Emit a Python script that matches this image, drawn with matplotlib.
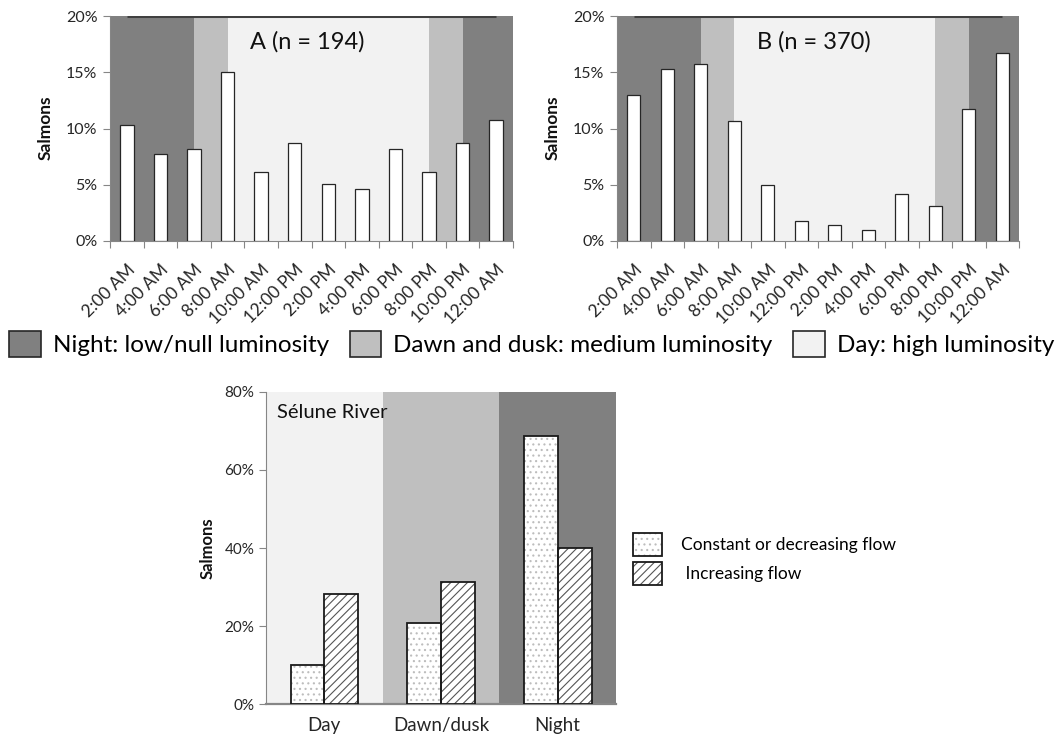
import numpy as np
import matplotlib
matplotlib.use('Agg')
import matplotlib.pyplot as plt
from matplotlib.patches import Patch
from matplotlib.ticker import PercentFormatter

plt.rcParams['font.family'] = ['Lato', 'DejaVu Sans']
plt.rcParams['hatch.linewidth'] = 0.8

hours = ['2:00 AM', '4:00 AM', '6:00 AM', '8:00 AM', '10:00 AM', '12:00 PM',
         '2:00 PM', '4:00 PM', '6:00 PM', '8:00 PM', '10:00 PM', '12:00 AM']
salmon_a = [10.3, 7.7, 8.2, 15.0, 6.1, 8.75, 5.1, 4.6, 8.2, 6.1, 8.75, 10.8]
salmon_b = [12.95, 15.25, 15.75, 10.7, 5.0, 1.75, 1.4, 0.95, 4.2, 3.15, 11.7, 16.7]

# luminosity periods along the hour axis (category positions)
band_edges = [-0.5, 2, 3, 9, 10, 11.5]
band_kind = ['night', 'dawn', 'day', 'dawn', 'night']
band_color = {'night': '#808080', 'dawn': '#bfbfbf', 'day': '#f2f2f2'}
band_label = {'night': 'Night: low/null luminosity',
              'dawn': 'Dawn and dusk: medium luminosity',
              'day': 'Day: high luminosity'}

periods = ['Day', 'Dawn/dusk', 'Night']
constant_flow = [10.0, 20.8, 68.7]
increasing_flow = [28.2, 31.3, 40.1]

W, H = 1060, 734
grey_axis = '#868686'
txt = '#262626'

fig = plt.figure(figsize=(W / 100, H / 100), dpi=100)


def hour_panel(rect, values, title):
    ax = fig.add_axes(rect)
    x = np.arange(len(hours))
    for i, kind in enumerate(band_kind):
        ax.axvspan(band_edges[i], band_edges[i + 1], color=band_color[kind], lw=0, zorder=0)
    ax.bar(x, values, width=0.4, color='white', edgecolor='#262626', lw=0.9, zorder=3)
    ax.hlines(20, x[0], x[-1], color='#404040', lw=2.2, zorder=4)
    ax.set_xlim(-0.5, len(hours) - 0.5)
    ax.set_ylim(0, 20)
    ax.set_yticks([0, 5, 10, 15, 20])
    ax.yaxis.set_major_formatter(PercentFormatter(decimals=0))
    ax.set_xticks(np.arange(len(hours) + 1) - 0.5)
    ax.set_xticklabels([])
    ax.set_xticks(x, minor=True)
    ax.set_xticklabels(hours, minor=True, rotation=45, ha='right',
                       rotation_mode='anchor', fontsize=12.5, color=txt)
    ax.tick_params(axis='x', which='minor', length=0, pad=15)
    ax.tick_params(axis='x', which='major', length=5, color=grey_axis)
    ax.tick_params(axis='y', length=5, color=grey_axis, labelsize=11.5, labelcolor=txt, pad=4)
    for s in ['top', 'right']:
        ax.spines[s].set_visible(False)
    for s in ['left', 'bottom']:
        ax.spines[s].set_color(grey_axis)
    ax.text(0.49, 0.885, title, transform=ax.transAxes, ha='center', va='center',
            fontsize=17, color='#111111', zorder=5)
    return ax


axA = hour_panel([110 / W, 1 - 241 / H, 403 / W, 225 / H], salmon_a, 'A (n = 194)')
axB = hour_panel([617 / W, 1 - 241 / H, 402 / W, 225 / H], salmon_b, 'B (n = 370)')
fig.text(46 / W, 1 - 128 / H, 'Salmons', rotation=90, ha='center', va='center',
         fontsize=12.5, fontweight='bold', color='#111111')
fig.text(553 / W, 1 - 128 / H, 'Salmons', rotation=90, ha='center', va='center',
         fontsize=12.5, fontweight='bold', color='#111111')

# luminosity legend
lum_handles = [Patch(facecolor=band_color[k], edgecolor='#262626', lw=1.2, label=band_label[k])
               for k in ['night', 'dawn', 'day']]
fig.legend(handles=lum_handles, loc='center left', bbox_to_anchor=(9 / W, 1 - 344 / H),
           ncol=3, frameon=False, fontsize=17.5, handlelength=1.3, handleheight=1.3,
           handletextpad=0.5, columnspacing=0.85, borderpad=0, borderaxespad=0)

# bottom panel
axC = fig.add_axes([266 / W, 1 - 704 / H, 350 / W, 312 / H])
xc = np.arange(len(periods))
for i, kind in enumerate(['day', 'dawn', 'night']):
    axC.axvspan(i - 0.5, i + 0.5, color=band_color[kind], lw=0, zorder=0)
bw = 0.29
axC.bar(xc - bw / 2, constant_flow, width=bw, color='white', edgecolor='#bdbdbd',
        hatch='...', lw=0, zorder=3)
axC.bar(xc - bw / 2, constant_flow, width=bw, fill=False, edgecolor='#1a1a1a', lw=1.3, zorder=4)
axC.bar(xc + bw / 2, increasing_flow, width=bw, color='white', edgecolor='#555555',
        hatch='////', lw=0, zorder=3)
axC.bar(xc + bw / 2, increasing_flow, width=bw, fill=False, edgecolor='#1a1a1a', lw=1.3, zorder=4)
axC.set_xlim(-0.5, len(periods) - 0.5)
axC.set_ylim(0, 80)
axC.set_yticks([0, 20, 40, 60, 80])
axC.yaxis.set_major_formatter(PercentFormatter(decimals=0))
axC.set_xticks(xc)
axC.set_xticklabels(periods, fontsize=13.5, color=txt)
axC.tick_params(axis='x', length=0, pad=9)
axC.tick_params(axis='y', length=5, color=grey_axis, labelsize=11, labelcolor=txt)
for s in ['top', 'right']:
    axC.spines[s].set_visible(False)
for s in ['left', 'bottom']:
    axC.spines[s].set_color(grey_axis)
axC.spines['bottom'].set_linewidth(1.6)
axC.text(277 / W, 1 - 413 / H, 'Sélune River', transform=fig.transFigure, ha='left',
         va='center', fontsize=14.5, color='#111111', zorder=5)
fig.text(208 / W, 1 - 548 / H, 'Salmons', rotation=90, ha='center', va='center',
         fontsize=12, fontweight='bold', color='#111111')

dot_fill = Patch(facecolor='white', edgecolor='#bdbdbd', hatch='...', lw=0)
dot_edge = Patch(fill=False, edgecolor='#1a1a1a', lw=1.3)
line_fill = Patch(facecolor='white', edgecolor='#555555', hatch='////', lw=0)
line_edge = Patch(fill=False, edgecolor='#1a1a1a', lw=1.3)
fig.legend(handles=[(dot_fill, dot_edge), (line_fill, line_edge)],
           labels=['Constant or decreasing flow', ' Increasing flow'],
           loc='upper left', bbox_to_anchor=(633 / W, 1 - 533 / H), frameon=False,
           fontsize=12.5, handlelength=1.65, handleheight=1.65, handletextpad=1.1,
           labelspacing=0.35, borderpad=0, borderaxespad=0)

fig.savefig('out.png', dpi=100)
